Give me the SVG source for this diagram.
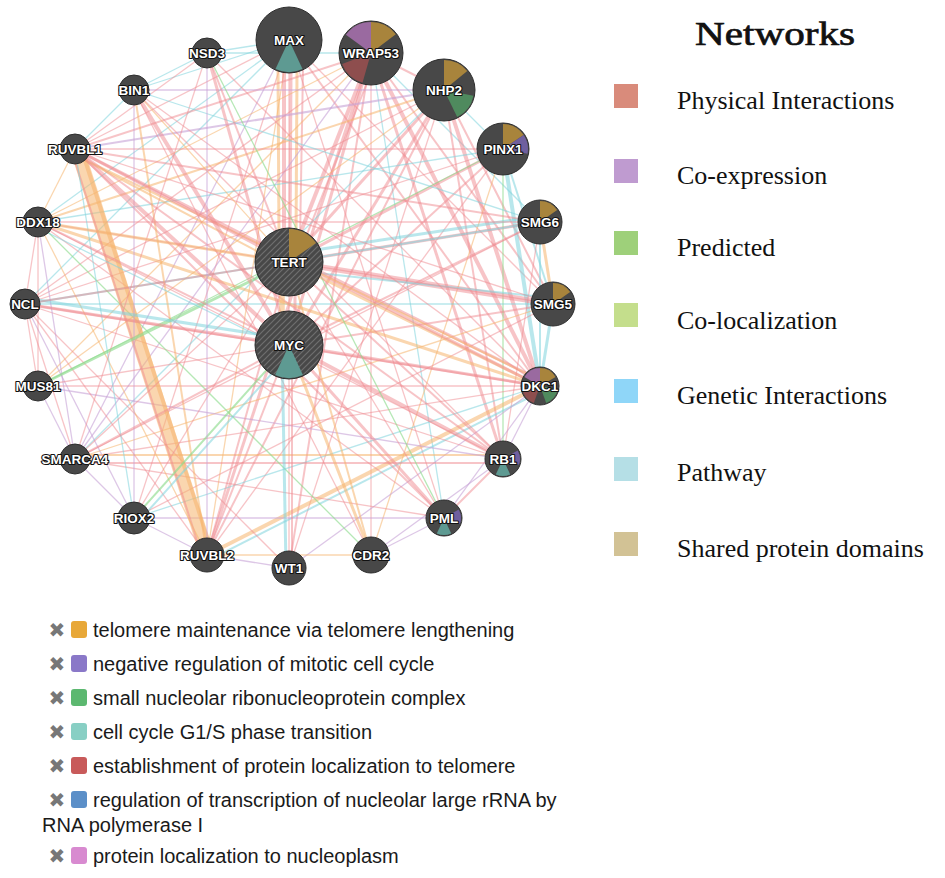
<svg xmlns="http://www.w3.org/2000/svg" width="945" height="878" viewBox="0 0 945 878">
<defs>
<pattern id="hatch" patternUnits="userSpaceOnUse" width="6" height="6"><path d="M-1,1 L1,-1 M0,6 L6,0 M5,7 L7,5" stroke="#6e6e6e" stroke-width="1.2"/></pattern>
</defs>
<style>
.e line{stroke-width:1.3;fill:none}
.p{stroke:#ef8a90;stroke-opacity:.5}
.o{stroke:#f5b56e;stroke-opacity:.55}
.c{stroke:#7fd3dd;stroke-opacity:.55}
.v{stroke:#c6a2d6;stroke-opacity:.6}
.g{stroke:#8fdc8f;stroke-opacity:.65}
.e .b2{stroke-width:2}.e .b3{stroke-width:3}.e .b4{stroke-width:4}.e .b5{stroke-width:5.5}.e .b14{stroke-width:14;stroke-opacity:.55}
.nd{fill:#484848;stroke:#2e2e2e;stroke-width:1}
.lb{font-family:"Liberation Sans",Arial,sans-serif;font-size:13.5px;font-weight:bold;fill:#fff;stroke:#111;stroke-width:2.2px;paint-order:stroke;stroke-linejoin:round;text-anchor:middle}
.gold{fill:#a8843c}.pur{fill:#9a6aa0}.red{fill:#8e4e4e}.grn{fill:#4f8a5e}.teal{fill:#5e9a92}.vio{fill:#6f5f9e}
.ttl{font-family:"Liberation Serif","Times New Roman",serif;font-size:34px;fill:#111;stroke:#111;stroke-width:.7px;text-anchor:middle}
.nl{font-family:"Liberation Serif","Times New Roman",serif;font-size:26px;fill:#111}
.bl{font-family:"Liberation Sans",Arial,sans-serif;font-size:20px;fill:#1a1a1a}
.xm{font-family:"DejaVu Sans",sans-serif;font-size:20px;fill:#777;text-anchor:middle}
</style>
<rect width="945" height="878" fill="#fff"/>
<g id="connectors" class="e">
<line class="c" x1="289" y1="40" x2="38" y2="222"/>
<line class="p" x1="289" y1="40" x2="75" y2="149"/>
<line class="c" x1="289" y1="40" x2="25" y2="304"/>
<line class="p" x1="289" y1="40" x2="553" y2="304"/>
<line class="p b2" x1="289" y1="40" x2="540" y2="386"/>
<line class="c" x1="289" y1="40" x2="134" y2="90"/>
<line class="c" x1="289" y1="40" x2="207" y2="53"/>
<line class="o" x1="289" y1="40" x2="207" y2="555"/>
<line class="p" x1="289" y1="40" x2="289" y2="568"/>
<line class="p" x1="289" y1="40" x2="444" y2="518"/>
<line class="v" x1="289" y1="40" x2="75" y2="459"/>
<line class="p" x1="289" y1="40" x2="134" y2="518"/>
<line class="o b3" x1="278" y1="68" x2="279" y2="240"/>
<line class="p b4" x1="284" y1="72" x2="284" y2="240"/>
<line class="p b3" x1="291" y1="72" x2="290" y2="240"/>
<line class="o b3" x1="297" y1="72" x2="296" y2="240"/>
<line class="p b2" x1="303" y1="68" x2="300" y2="240"/>
<line class="p b4" x1="371" y1="53" x2="289" y2="262"/>
<line class="p b2" x1="378" y1="55" x2="296" y2="262"/>
<line class="p b3" x1="371" y1="53" x2="289" y2="345"/>
<line class="p b4" x1="371" y1="53" x2="540" y2="386"/>
<line class="p b2" x1="371" y1="53" x2="444" y2="90"/>
<line class="p b2" x1="371" y1="53" x2="553" y2="304"/>
<line class="p b2" x1="371" y1="53" x2="75" y2="149"/>
<line class="o" x1="371" y1="53" x2="38" y2="222"/>
<line class="p" x1="371" y1="53" x2="25" y2="304"/>
<line class="p b3" x1="371" y1="53" x2="503" y2="459"/>
<line class="c" x1="371" y1="53" x2="444" y2="518"/>
<line class="p b3" x1="371" y1="53" x2="207" y2="555"/>
<line class="v" x1="371" y1="53" x2="75" y2="459"/>
<line class="o" x1="371" y1="53" x2="38" y2="386"/>
<line class="c" x1="371" y1="53" x2="540" y2="222"/>
<line class="p b2" x1="371" y1="53" x2="289" y2="568"/>
<line class="p" x1="371" y1="53" x2="371" y2="555"/>
<line class="p b4" x1="444" y1="90" x2="540" y2="386"/>
<line class="p b3" x1="444" y1="90" x2="289" y2="262"/>
<line class="p b3" x1="444" y1="90" x2="289" y2="345"/>
<line class="v b2" x1="444" y1="90" x2="75" y2="149"/>
<line class="o b2" x1="444" y1="90" x2="38" y2="222"/>
<line class="p" x1="444" y1="90" x2="25" y2="304"/>
<line class="p b2" x1="444" y1="90" x2="553" y2="304"/>
<line class="p b2" x1="444" y1="90" x2="503" y2="459"/>
<line class="p" x1="444" y1="90" x2="289" y2="568"/>
<line class="o" x1="444" y1="90" x2="38" y2="386"/>
<line class="p b2" x1="444" y1="90" x2="207" y2="555"/>
<line class="c" x1="444" y1="90" x2="503" y2="149"/>
<line class="v" x1="444" y1="90" x2="134" y2="90"/>
<line class="c" x1="444" y1="90" x2="75" y2="459"/>
<line class="c b4" x1="503" y1="149" x2="540" y2="386"/>
<line class="p b3" x1="503" y1="149" x2="289" y2="262"/>
<line class="p b2" x1="503" y1="149" x2="289" y2="345"/>
<line class="p" x1="503" y1="149" x2="25" y2="304"/>
<line class="c" x1="503" y1="149" x2="38" y2="222"/>
<line class="p" x1="503" y1="149" x2="75" y2="149"/>
<line class="c b2" x1="503" y1="149" x2="553" y2="304"/>
<line class="g" x1="503" y1="149" x2="38" y2="386"/>
<line class="g" x1="503" y1="149" x2="503" y2="459"/>
<line class="o" x1="503" y1="149" x2="371" y2="555"/>
<line class="p" x1="503" y1="149" x2="207" y2="555"/>
<line class="p b3" x1="540" y1="222" x2="289" y2="262"/>
<line class="c b3" x1="540" y1="216" x2="289" y2="254"/>
<line class="o b3" x1="540" y1="222" x2="553" y2="304"/>
<line class="c b2" x1="540" y1="222" x2="540" y2="386"/>
<line class="p b2" x1="540" y1="222" x2="289" y2="345"/>
<line class="c b2" x1="540" y1="222" x2="25" y2="304"/>
<line class="p" x1="540" y1="222" x2="38" y2="222"/>
<line class="p b2" x1="540" y1="222" x2="75" y2="149"/>
<line class="p" x1="540" y1="222" x2="75" y2="459"/>
<line class="p" x1="540" y1="222" x2="503" y2="459"/>
<line class="p b5" x1="553" y1="304" x2="289" y2="262"/>
<line class="c b2" x1="553" y1="298" x2="289" y2="270"/>
<line class="p b2" x1="553" y1="304" x2="289" y2="345"/>
<line class="c b3" x1="553" y1="304" x2="540" y2="386"/>
<line class="c" x1="553" y1="304" x2="25" y2="304"/>
<line class="p" x1="553" y1="304" x2="38" y2="222"/>
<line class="p" x1="553" y1="304" x2="75" y2="149"/>
<line class="p" x1="553" y1="304" x2="134" y2="518"/>
<line class="o" x1="553" y1="304" x2="75" y2="459"/>
<line class="o b3" x1="540" y1="386" x2="289" y2="262"/>
<line class="p b3" x1="540" y1="380" x2="289" y2="256"/>
<line class="p b3" x1="540" y1="386" x2="289" y2="345"/>
<line class="p b3" x1="540" y1="386" x2="75" y2="149"/>
<line class="o b2" x1="540" y1="380" x2="75" y2="155"/>
<line class="o b3" x1="540" y1="386" x2="38" y2="222"/>
<line class="p b2" x1="540" y1="386" x2="25" y2="304"/>
<line class="o b4" x1="540" y1="386" x2="207" y2="555"/>
<line class="c b2" x1="540" y1="392" x2="207" y2="561"/>
<line class="v" x1="540" y1="386" x2="289" y2="568"/>
<line class="v" x1="540" y1="386" x2="503" y2="459"/>
<line class="p" x1="540" y1="386" x2="75" y2="459"/>
<line class="p" x1="540" y1="386" x2="38" y2="386"/>
<line class="p" x1="540" y1="386" x2="134" y2="90"/>
<line class="c" x1="540" y1="386" x2="134" y2="518"/>
<line class="v" x1="540" y1="386" x2="444" y2="518"/>
<line class="p b4" x1="503" y1="459" x2="289" y2="345"/>
<line class="p b2" x1="503" y1="459" x2="289" y2="262"/>
<line class="o b2" x1="503" y1="455" x2="75" y2="455"/>
<line class="p b2" x1="503" y1="463" x2="75" y2="463"/>
<line class="p b2" x1="503" y1="459" x2="444" y2="518"/>
<line class="v" x1="503" y1="459" x2="371" y2="555"/>
<line class="p b2" x1="503" y1="459" x2="75" y2="149"/>
<line class="p" x1="503" y1="459" x2="25" y2="304"/>
<line class="v" x1="503" y1="459" x2="38" y2="386"/>
<line class="p" x1="503" y1="459" x2="38" y2="222"/>
<line class="p b3" x1="444" y1="518" x2="289" y2="345"/>
<line class="p" x1="444" y1="518" x2="289" y2="262"/>
<line class="p b2" x1="444" y1="518" x2="75" y2="149"/>
<line class="v" x1="444" y1="518" x2="371" y2="555"/>
<line class="p" x1="444" y1="518" x2="75" y2="459"/>
<line class="v" x1="444" y1="518" x2="134" y2="518"/>
<line class="g" x1="444" y1="518" x2="207" y2="53"/>
<line class="p" x1="444" y1="518" x2="38" y2="222"/>
<line class="o b3" x1="371" y1="555" x2="289" y2="345"/>
<line class="o b2" x1="371" y1="555" x2="289" y2="262"/>
<line class="g" x1="371" y1="555" x2="38" y2="222"/>
<line class="o" x1="371" y1="555" x2="207" y2="555"/>
<line class="p" x1="371" y1="555" x2="134" y2="90"/>
<line class="c b3" x1="286" y1="568" x2="282" y2="345"/>
<line class="p b2" x1="292" y1="568" x2="292" y2="345"/>
<line class="v" x1="289" y1="568" x2="207" y2="555"/>
<line class="p" x1="289" y1="568" x2="25" y2="304"/>
<line class="o b14" x1="77" y1="149" x2="207" y2="555"/>
<line class="o b4" x1="82" y1="151" x2="212" y2="552"/>
<line class="p b2" x1="72" y1="152" x2="202" y2="556"/>
<line class="p b2" x1="207" y1="555" x2="289" y2="345"/>
<line class="p b2" x1="207" y1="555" x2="289" y2="262"/>
<line class="p" x1="207" y1="555" x2="25" y2="304"/>
<line class="v" x1="207" y1="555" x2="134" y2="518"/>
<line class="o" x1="207" y1="555" x2="38" y2="222"/>
<line class="o b2" x1="207" y1="555" x2="134" y2="90"/>
<line class="g b2" x1="134" y1="518" x2="289" y2="345"/>
<line class="c b2" x1="138" y1="522" x2="293" y2="350"/>
<line class="p" x1="134" y1="518" x2="289" y2="262"/>
<line class="v" x1="134" y1="518" x2="25" y2="304"/>
<line class="v" x1="134" y1="518" x2="75" y2="459"/>
<line class="v" x1="134" y1="518" x2="134" y2="90"/>
<line class="c" x1="134" y1="518" x2="75" y2="149"/>
<line class="p b2" x1="75" y1="459" x2="289" y2="345"/>
<line class="p" x1="75" y1="459" x2="289" y2="262"/>
<line class="p" x1="75" y1="459" x2="25" y2="304"/>
<line class="v" x1="75" y1="459" x2="38" y2="222"/>
<line class="p" x1="75" y1="459" x2="207" y2="53"/>
<line class="v" x1="75" y1="459" x2="38" y2="386"/>
<line class="g b3" x1="38" y1="386" x2="289" y2="262"/>
<line class="p" x1="38" y1="386" x2="289" y2="345"/>
<line class="p" x1="38" y1="386" x2="25" y2="304"/>
<line class="p" x1="38" y1="386" x2="38" y2="222"/>
<line class="p b3" x1="25" y1="304" x2="289" y2="345"/>
<line class="c b3" x1="25" y1="298" x2="289" y2="339"/>
<line class="p b2" x1="25" y1="304" x2="289" y2="262"/>
<line class="p" x1="25" y1="304" x2="38" y2="222"/>
<line class="o b3" x1="38" y1="222" x2="289" y2="262"/>
<line class="p b2" x1="38" y1="222" x2="289" y2="345"/>
<line class="c" x1="38" y1="228" x2="289" y2="351"/>
<line class="o" x1="38" y1="222" x2="75" y2="149"/>
<line class="p b3" x1="75" y1="149" x2="289" y2="262"/>
<line class="o b2" x1="75" y1="155" x2="289" y2="268"/>
<line class="p b4" x1="75" y1="149" x2="289" y2="345"/>
<line class="p" x1="75" y1="149" x2="207" y2="53"/>
<line class="c" x1="75" y1="149" x2="134" y2="90"/>
<line class="p b4" x1="134" y1="90" x2="289" y2="345"/>
<line class="o" x1="134" y1="90" x2="289" y2="262"/>
<line class="c" x1="134" y1="90" x2="207" y2="53"/>
<line class="c" x1="134" y1="90" x2="540" y2="222"/>
<line class="p" x1="134" y1="90" x2="503" y2="459"/>
<line class="p b3" x1="207" y1="53" x2="289" y2="345"/>
<line class="p b2" x1="207" y1="53" x2="289" y2="262"/>
<line class="v" x1="207" y1="53" x2="207" y2="555"/>
<line class="c" x1="207" y1="53" x2="371" y2="53"/>
<line class="p" x1="207" y1="53" x2="540" y2="386"/>
<line class="o b5" x1="282" y1="262" x2="282" y2="345"/>
<line class="p b3" x1="295" y1="262" x2="295" y2="345"/>
</g>
<g id="n-MAX"><circle class="nd" cx="289" cy="40" r="33"/><path class="teal" d="M289,40 L302.5,69 A32,32 0 0 1 275.5,69 Z"/><text class="lb" x="289" y="45">MAX</text></g>
<g id="n-WRAP53"><circle class="nd" cx="371" cy="53" r="32"/><path class="gold" d="M371,53 L371,22 A31,31 0 0 1 395.8,34.3 Z"/><path class="pur" d="M371,53 L345.9,34.8 A31,31 0 0 1 371,22 Z"/><path class="red" d="M371,53 L362.5,82.8 A31,31 0 0 1 342.1,64.1 Z"/><text class="lb" x="371" y="58">WRAP53</text></g>
<g id="n-NHP2"><circle class="nd" cx="444" cy="90" r="31"/><path class="gold" d="M444,90 L444,60 A30,30 0 0 1 467.3,71.1 Z"/><path class="grn" d="M444,90 L473.4,95.7 A30,30 0 0 1 457.2,117 Z"/><text class="lb" x="444" y="95">NHP2</text></g>
<g id="n-PINX1"><circle class="nd" cx="503" cy="149" r="26"/><path class="gold" d="M503,149 L503,124 A25,25 0 0 1 523.7,135 Z"/><path class="vio" d="M503,149 L523.7,135 A25,25 0 0 1 527.5,153.8 Z"/><text class="lb" x="503" y="154">PINX1</text></g>
<g id="n-SMG6"><circle class="nd" cx="540" cy="222" r="22"/><path class="gold" d="M540,222 L540,201 A21,21 0 0 1 557.2,210 Z"/><text class="lb" x="540" y="227">SMG6</text></g>
<g id="n-SMG5"><circle class="nd" cx="553" cy="304" r="22"/><path class="gold" d="M553,304 L553,283 A21,21 0 0 1 570.2,292 Z"/><text class="lb" x="553" y="309">SMG5</text></g>
<g id="n-DKC1"><circle class="nd" cx="540" cy="386" r="19"/><path class="pur" d="M540,386 L524.4,377 A18,18 0 0 1 540,368 Z"/><path class="gold" d="M540,386 L540,368 A18,18 0 0 1 555.6,377 Z"/><path class="grn" d="M540,386 L557.7,389.1 A18,18 0 0 1 546.2,402.9 Z"/><path class="red" d="M540,386 L533.8,402.9 A18,18 0 0 1 522.3,389.1 Z"/><text class="lb" x="540" y="391">DKC1</text></g>
<g id="n-RB1"><circle class="nd" cx="503" cy="459" r="18"/><path class="vio" d="M503,459 L517.7,450.5 A17,17 0 0 1 519,464.8 Z"/><path class="teal" d="M503,459 L510.2,474.4 A17,17 0 0 1 495.8,474.4 Z"/><text class="lb" x="503" y="464">RB1</text></g>
<g id="n-PML"><circle class="nd" cx="444" cy="518" r="18"/><path class="vio" d="M444,518 L458.7,509.5 A17,17 0 0 1 460,523.8 Z"/><path class="teal" d="M444,518 L451.2,533.4 A17,17 0 0 1 436.8,533.4 Z"/><text class="lb" x="444" y="523">PML</text></g>
<g id="n-CDR2"><circle class="nd" cx="371" cy="555" r="18"/><text class="lb" x="371" y="560">CDR2</text></g>
<g id="n-WT1"><circle class="nd" cx="289" cy="568" r="17"/><text class="lb" x="289" y="573">WT1</text></g>
<g id="n-RUVBL2"><circle class="nd" cx="207" cy="555" r="17"/><text class="lb" x="207" y="560">RUVBL2</text></g>
<g id="n-RIOX2"><circle class="nd" cx="134" cy="518" r="16"/><text class="lb" x="134" y="523">RIOX2</text></g>
<g id="n-SMARCA4"><circle class="nd" cx="75" cy="459" r="15"/><text class="lb" x="75" y="464">SMARCA4</text></g>
<g id="n-MUS81"><circle class="nd" cx="38" cy="386" r="15"/><text class="lb" x="38" y="391">MUS81</text></g>
<g id="n-NCL"><circle class="nd" cx="25" cy="304" r="15"/><text class="lb" x="25" y="309">NCL</text></g>
<g id="n-DDX18"><circle class="nd" cx="38" cy="222" r="15"/><text class="lb" x="38" y="227">DDX18</text></g>
<g id="n-RUVBL1"><circle class="nd" cx="75" cy="149" r="15"/><text class="lb" x="75" y="154">RUVBL1</text></g>
<g id="n-BIN1"><circle class="nd" cx="134" cy="90" r="15"/><text class="lb" x="134" y="95">BIN1</text></g>
<g id="n-NSD3"><circle class="nd" cx="207" cy="53" r="15"/><text class="lb" x="207" y="58">NSD3</text></g>
<g id="n-TERT"><circle class="nd" cx="289" cy="262" r="34"/><circle cx="289" cy="262" r="33" fill="url(#hatch)"/><path class="gold" d="M289,262 L289,229 A33,33 0 0 1 316,243.1 Z"/><text class="lb" x="289" y="267">TERT</text></g>
<g id="n-MYC"><circle class="nd" cx="289" cy="345" r="34"/><circle cx="289" cy="345" r="33" fill="url(#hatch)"/><path class="teal" d="M289,345 L302.9,374.9 A33,33 0 0 1 275.1,374.9 Z"/><text class="lb" x="289" y="350">MYC</text></g>
<g id="networks-legend">
<text class="ttl" x="775" y="45" textLength="160" lengthAdjust="spacingAndGlyphs">Networks</text>
<rect x="614" y="84" width="24" height="24" fill="#d98b7b"/><text class="nl" x="677" y="109">Physical Interactions</text>
<rect x="614" y="159" width="24" height="24" fill="#bf9bd0"/><text class="nl" x="677" y="184">Co-expression</text>
<rect x="614" y="231" width="24" height="24" fill="#9ed07a"/><text class="nl" x="677" y="256">Predicted</text>
<rect x="614" y="303" width="24" height="24" fill="#c4de8c"/><text class="nl" x="677" y="329">Co-localization</text>
<rect x="614" y="379" width="24" height="24" fill="#8fd6f8"/><text class="nl" x="677" y="404">Genetic Interactions</text>
<rect x="614" y="457" width="24" height="24" fill="#b5dfe6"/><text class="nl" x="677" y="481">Pathway</text>
<rect x="614" y="532" width="24" height="24" fill="#d2c295"/><text class="nl" x="677" y="557">Shared protein domains</text>
</g>
<g id="functions-legend">
<text class="xm" x="57" y="637">✖</text><rect x="71" y="621" width="16" height="17" rx="3" fill="#e8a838"/><text class="bl" x="93" y="637">telomere maintenance via telomere lengthening</text>
<text class="xm" x="57" y="671">✖</text><rect x="71" y="655" width="16" height="17" rx="3" fill="#8a78c8"/><text class="bl" x="93" y="671">negative regulation of mitotic cell cycle</text>
<text class="xm" x="57" y="705">✖</text><rect x="71" y="689" width="16" height="17" rx="3" fill="#5cb870"/><text class="bl" x="93" y="705">small nucleolar ribonucleoprotein complex</text>
<text class="xm" x="57" y="739">✖</text><rect x="71" y="723" width="16" height="17" rx="3" fill="#88cfc4"/><text class="bl" x="93" y="739">cell cycle G1/S phase transition</text>
<text class="xm" x="57" y="773">✖</text><rect x="71" y="757" width="16" height="17" rx="3" fill="#c85a5a"/><text class="bl" x="93" y="773">establishment of protein localization to telomere</text>
<text class="xm" x="57" y="807">✖</text><rect x="71" y="791" width="16" height="17" rx="3" fill="#5b8fc8"/><text class="bl" x="93" y="807">regulation of transcription of nucleolar large rRNA by</text>
<text class="bl" x="42" y="832">RNA polymerase I</text>
<text class="xm" x="57" y="863">✖</text><rect x="71" y="847" width="16" height="17" rx="3" fill="#d88ad0"/><text class="bl" x="93" y="863">protein localization to nucleoplasm</text>
</g>
</svg>
